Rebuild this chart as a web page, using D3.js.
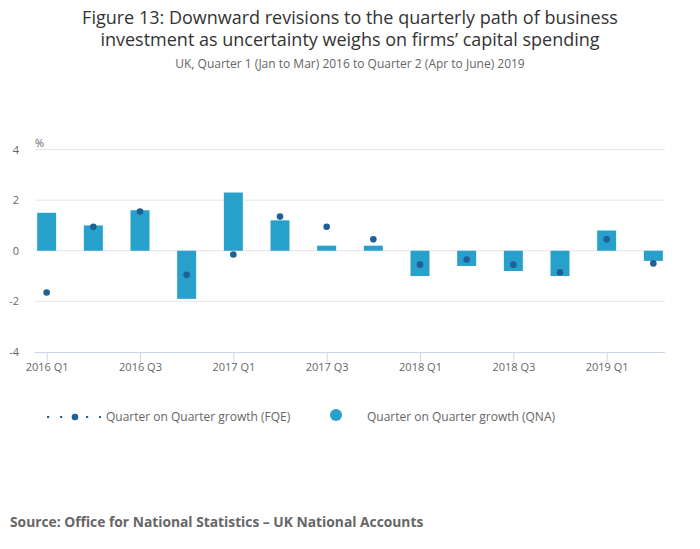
<!DOCTYPE html>
<html>
<head>
<meta charset="utf-8">
<script src="https://cdn.jsdelivr.net/npm/d3@7"></script>
<style>
  body { margin: 0; background: #fff; }
  svg { font-family: "Open Sans", sans-serif; }
</style>
</head>
<body>
<div id="canvas"></div>
<script>
var quarters = ["2016 Q1", "2016 Q2", "2016 Q3", "2016 Q4",
                "2017 Q1", "2017 Q2", "2017 Q3", "2017 Q4",
                "2018 Q1", "2018 Q2", "2018 Q3", "2018 Q4",
                "2019 Q1", "2019 Q2"];
var qnaValues = [1.5, 1.0, 1.6, -1.9, 2.3, 1.2, 0.2, 0.2, -1.0, -0.6, -0.8, -1.0, 0.8, -0.4];
var fqeValues = [-1.65, 0.95, 1.55, -0.95, -0.15, 1.35, 0.95, 0.45, -0.55, -0.35, -0.55, -0.85, 0.45, -0.5];
var yTicks = [-4, -2, 0, 2, 4];
var xTickLabels = ["2016 Q1", "2016 Q3", "2017 Q1", "2017 Q3", "2018 Q1", "2018 Q3", "2019 Q1"];

var w = 700, h = 549;
var plotLeft = 35, plotRight = 665, plotTop = 149.5, plotBottom = 352;

var svg = d3.select("#canvas").append("svg")
    .attr("width", w)
    .attr("height", h);

// titles
svg.append("text").attr("x", 350).attr("y", 24).attr("text-anchor", "middle")
    .style("font-size", "18px").attr("fill", "#333")
    .text("Figure 13: Downward revisions to the quarterly path of business");
svg.append("text").attr("x", 350).attr("y", 46).attr("text-anchor", "middle")
    .style("font-size", "18px").attr("fill", "#333")
    .text("investment as uncertainty weighs on firms\u2019 capital spending");
svg.append("text").attr("x", 350).attr("y", 68).attr("text-anchor", "middle")
    .style("font-size", "12px").attr("fill", "#666")
    .text("UK, Quarter 1 (Jan to Mar) 2016 to Quarter 2 (Apr to June) 2019");

var x = d3.scalePoint().domain(quarters).range([plotLeft, plotRight]).padding(0.25);
var y = d3.scaleLinear().domain([-4, 4]).range([plotBottom, plotTop]);

// grid
svg.append("g").selectAll("line").data(yTicks.filter(function (d) { return d > -4; }))
    .join("line")
    .attr("x1", plotLeft).attr("x2", plotRight)
    .attr("y1", function (d) { return y(d); }).attr("y2", function (d) { return y(d); })
    .attr("stroke", "#e6e6e6");

// y labels
svg.append("g").selectAll("text").data(yTicks).join("text")
    .attr("x", 19).attr("y", function (d) { return y(d) + 4; })
    .attr("text-anchor", "end")
    .style("font-size", "11px").attr("fill", "#666")
    .text(function (d) { return d; });
svg.append("text").attr("x", 35).attr("y", 147)
    .style("font-size", "11px").attr("fill", "#666").text("%");

// bars (QNA)
var barW = 19;
svg.append("g").selectAll("rect").data(quarters).join("rect")
    .attr("x", function (d) { return x(d) - barW / 2; })
    .attr("width", barW)
    .attr("y", function (d, i) { return y(Math.max(0, qnaValues[i])); })
    .attr("height", function (d, i) { return Math.abs(y(qnaValues[i]) - y(0)); })
    .attr("fill", "#27a0cc");

// x axis
var xAxis = d3.axisBottom(x).tickValues(xTickLabels).tickSize(10).tickSizeOuter(0);
var gx = svg.append("g").attr("transform", "translate(0," + plotBottom + ")").call(xAxis);
gx.select(".domain").attr("stroke", "#ccd6eb").attr("d", "M" + plotLeft + ",0.5H" + plotRight);
gx.selectAll(".tick line").attr("stroke", "#ccd6eb");
gx.selectAll(".tick text").attr("fill", "#666").style("font-size", "11px")
    .style("font-family", "Open Sans, sans-serif").attr("dy", "0.55em").attr("y", 13);

// dots (FQE)
svg.append("g").selectAll("circle").data(quarters).join("circle")
    .attr("cx", function (d) { return x(d); })
    .attr("cy", function (d, i) { return y(fqeValues[i]); })
    .attr("r", 3.3)
    .attr("fill", "#206095");

// legend
var lg = svg.append("g");
lg.append("line").attr("x1", 47).attr("x2", 101).attr("y1", 417).attr("y2", 417)
    .attr("stroke", "#206095").attr("stroke-width", 2.2).attr("stroke-dasharray", "2.2,10.8");
lg.append("circle").attr("cx", 75).attr("cy", 417).attr("r", 3.3).attr("fill", "#206095");
lg.append("text").attr("x", 106).attr("y", 421)
    .style("font-size", "12px").attr("fill", "#666")
    .text("Quarter on Quarter growth (FQE)");
lg.append("circle").attr("cx", 336).attr("cy", 415).attr("r", 6).attr("fill", "#27a0cc");
lg.append("text").attr("x", 367).attr("y", 421)
    .style("font-size", "12px").attr("fill", "#666")
    .text("Quarter on Quarter growth (QNA)");

// source
svg.append("text").attr("x", 10).attr("y", 527)
    .style("font-size", "13.8px").style("font-weight", "bold").attr("fill", "#666")
    .text("Source: Office for National Statistics \u2013 UK National Accounts");
</script>
</body>
</html>
